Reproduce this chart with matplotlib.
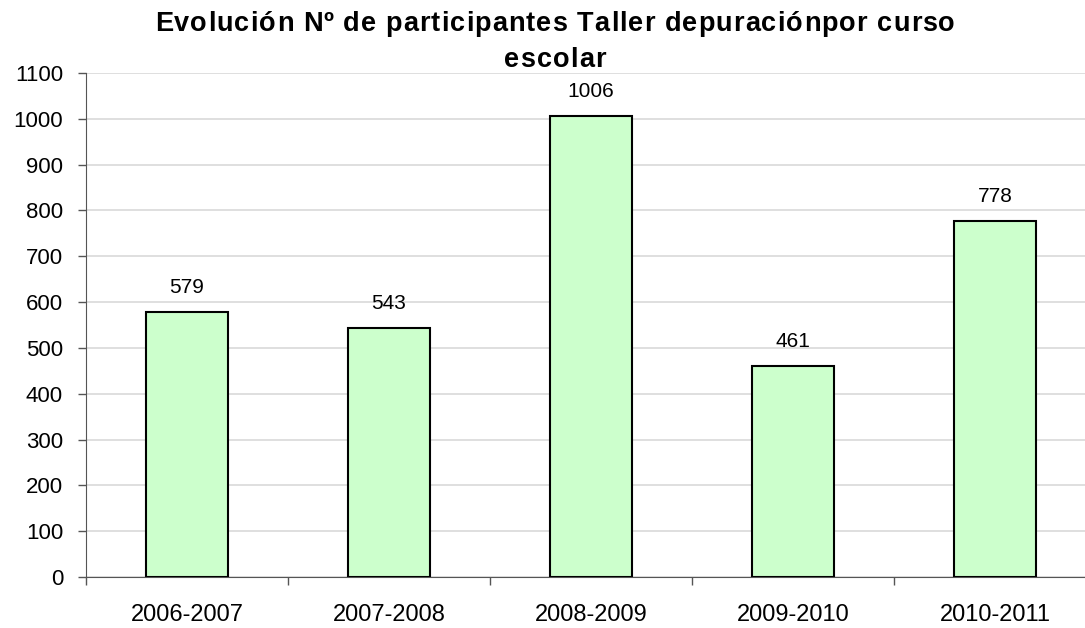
"""Bar chart: participantes Taller depuración por curso escolar"""
import matplotlib
matplotlib.use("Agg")
import matplotlib.pyplot as plt
from matplotlib.ticker import FixedLocator
from matplotlib.font_manager import FontProperties, findfont
from matplotlib.ft2font import FT2Font

plt.rcParams['font.family'] = ['Liberation Sans', 'DejaVu Sans']

# Data
cursos = ["2006-2007", "2007-2008", "2008-2009", "2009-2010", "2010-2011"]
participantes = [579, 543, 1006, 461, 778]
y_ticks = list(range(0, 1101, 100))
title_lines = ["Evolución Nº de participantes Taller depuraciónpor curso", "escolar"]

W, H, DPI = 1085, 628, 100
TITLE_SIZE = 19.5
TITLE_FP = FontProperties(family='Liberation Sans', weight='bold', size=TITLE_SIZE)


def advances(s):
    font = FT2Font(findfont(TITLE_FP))
    font.set_size(TITLE_SIZE, DPI)
    return [font.load_char(ord(c)).linearHoriAdvance / 65536 for c in s]


def spaced_line(fig, s, xc, y_base, spacing):
    """Draw one bold line with a little extra letter spacing (pixels), centred on xc."""
    advs = advances(s)
    total = sum(advs) + spacing * (len(s) - 1)
    x = xc - total / 2
    for c, a in zip(s, advs):
        if c != ' ':
            fig.text(x / W, y_base / H, c, fontproperties=TITLE_FP,
                     ha='left', va='baseline')
        x += a + spacing


fig = plt.figure(figsize=(W / DPI, H / DPI), dpi=DPI)
# axes runs slightly past the right edge, like the original
ax = fig.add_axes([86 / W, 51 / H, 1010 / W, 504 / H])

x = list(range(len(cursos)))
ax.bar(x, participantes, width=0.41, color='#ccffcc', edgecolor='black',
       linewidth=1.5, zorder=3)

for xi, v in zip(x, participantes):
    ax.annotate(str(v), (xi, v), xytext=(0, 13.7), textcoords='offset points',
                ha='center', va='baseline', fontsize=15)

ax.set_xlim(-0.5, len(cursos) - 0.5)
ax.set_ylim(0, 1100)
ax.set_yticks(y_ticks)
ax.tick_params(axis='y', labelsize=16, length=6, width=1, direction='out',
               pad=10.5, color='#555555')
ax.yaxis.grid(True, color='#d9d9d9', linewidth=1.2, zorder=0)

# category labels at centers, tick marks between categories
ax.set_xticks(x)
ax.set_xticklabels(cursos)
ax.tick_params(axis='x', which='major', length=0, labelsize=17, pad=19.5)
ax.xaxis.set_minor_locator(FixedLocator([i + 0.5 for i in range(-1, len(cursos))]))
ax.tick_params(axis='x', which='minor', length=6, width=1, direction='out', color='#555555')

for side in ['top', 'right']:
    ax.spines[side].set_visible(False)
ax.spines['left'].set_color('#555555')
ax.spines['bottom'].set_color('#555555')

# title: first line spans about 800 px in the original, same spacing for line 2
line1 = title_lines[0]
gap = (800 - sum(advances(line1))) / (len(line1) - 1)
spaced_line(fig, line1, 555, H - 30.7, gap)
spaced_line(fig, title_lines[1], 555, H - 66.7, gap)

fig.savefig("out.png", dpi=DPI, facecolor='white')
plt.close(fig)
